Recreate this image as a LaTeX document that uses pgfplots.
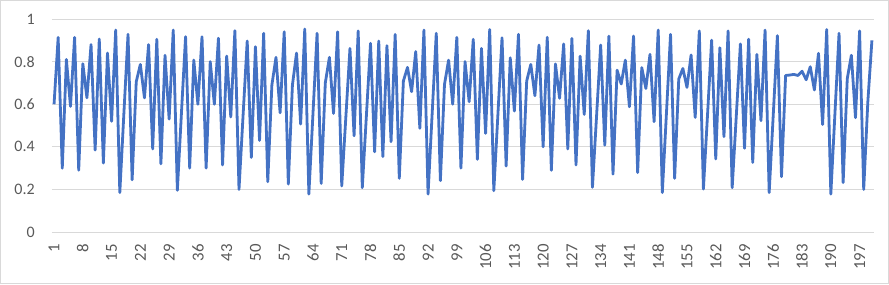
\documentclass[border=0pt]{standalone}
\usepackage{pgfplots}
\pgfplotsset{compat=1.18}
\usepackage{fontspec}
\setmainfont{Carlito}
\definecolor{exblue}{HTML}{4472C4}
\definecolor{exgrid}{HTML}{D9D9D9}
\definecolor{extext}{HTML}{595959}
\definecolor{exborder}{HTML}{D9D9D9}
\begin{document}
\begin{tikzpicture}
\begin{axis}[
  scale only axis,
  width=616.5pt, height=159.75pt,
  xmin=0.5, xmax=200.5,
  ymin=0, ymax=1,
  xtick={1,8,...,197},
  ytick={0,0.2,0.4,0.6,0.8,1},
  ymajorgrids, grid style={exgrid, line width=0.75pt},
  axis x line*=bottom, axis y line*=left,
  x axis line style={exgrid, line width=0.75pt, -},
  y axis line style={draw=none},
  major tick length=0pt,
  tick style={draw=none},
  /pgf/number format/assume math mode=true,
  ticklabel style={text=extext, inner sep=0pt},
  yticklabel style={font=\fontsize{12}{14}\selectfont, anchor=east, xshift=-12.75pt},
  xticklabel style={font=\fontsize{12.6}{14}\selectfont, yshift=-9pt, rotate=90, anchor=east},
  clip=false,
]
\addplot[exblue, line width=2.1pt, line join=round, mark=none] coordinates {
(1,0.60)(2,0.914)(3,0.30)(4,0.81)(5,0.59)(6,0.914)(7,0.29)(8,0.79)(9,0.63)(10,0.88)
(11,0.385)(12,0.906)(13,0.324)(14,0.84)(15,0.52)(16,0.948)(17,0.185)(18,0.56)(19,0.928)(20,0.245)
(21,0.706)(22,0.787)(23,0.63)(24,0.88)(25,0.39)(26,0.905)(27,0.32)(28,0.83)(29,0.53)(30,0.948)
(31,0.196)(32,0.56)(33,0.917)(34,0.30)(35,0.807)(36,0.60)(37,0.917)(38,0.30)(39,0.80)(40,0.60)
(41,0.91)(42,0.315)(43,0.826)(44,0.54)(45,0.945)(46,0.20)(47,0.55)(48,0.897)(49,0.35)(50,0.87)
(51,0.43)(52,0.933)(53,0.236)(54,0.69)(55,0.82)(56,0.56)(57,0.94)(58,0.225)(59,0.69)(60,0.84)
(61,0.507)(62,0.953)(63,0.178)(64,0.556)(65,0.933)(66,0.228)(67,0.70)(68,0.82)(69,0.557)(70,0.94)
(71,0.216)(72,0.54)(73,0.862)(74,0.452)(75,0.944)(76,0.208)(77,0.547)(78,0.886)(79,0.377)(80,0.897)
(81,0.354)(82,0.875)(83,0.424)(84,0.928)(85,0.252)(86,0.709)(87,0.773)(88,0.659)(89,0.847)(90,0.487)
(91,0.948)(92,0.178)(93,0.556)(94,0.933)(95,0.241)(96,0.693)(97,0.807)(98,0.60)(99,0.914)(100,0.30)
(101,0.80)(102,0.612)(103,0.905)(104,0.341)(105,0.862)(106,0.463)(107,0.951)(108,0.194)(109,0.553)(110,0.912)
(111,0.31)(112,0.818)(113,0.568)(114,0.928)(115,0.247)(116,0.709)(117,0.787)(118,0.64)(119,0.878)(120,0.40)
(121,0.914)(122,0.29)(123,0.789)(124,0.628)(125,0.883)(126,0.39)(127,0.909)(128,0.315)(129,0.826)(130,0.552)
(131,0.945)(132,0.21)(133,0.544)(134,0.878)(135,0.408)(136,0.92)(137,0.272)(138,0.76)(139,0.695)(140,0.807)
(141,0.588)(142,0.92)(143,0.279)(144,0.772)(145,0.674)(146,0.834)(147,0.518)(148,0.948)(149,0.185)(150,0.556)
(151,0.928)(152,0.252)(153,0.718)(154,0.768)(155,0.679)(156,0.831)(157,0.538)(158,0.944)(159,0.202)(160,0.55)
(161,0.901)(162,0.343)(163,0.865)(164,0.448)(165,0.944)(166,0.208)(167,0.545)(168,0.883)(169,0.393)(170,0.905)
(171,0.327)(172,0.834)(173,0.523)(174,0.948)(175,0.185)(176,0.553)(177,0.922)(178,0.26)(179,0.735)(180,0.737)
(181,0.74)(182,0.735)(183,0.755)(184,0.715)(185,0.776)(186,0.667)(187,0.839)(188,0.505)(189,0.951)(190,0.178)
(191,0.556)(192,0.933)(193,0.232)(194,0.72)(195,0.83)(196,0.537)(197,0.944)(198,0.20)(199,0.61)(200,0.90)
};
\end{axis}
\draw[exborder, line width=0.75pt]
  ([xshift=-38.6pt,yshift=-38.6pt]current axis.south west) rectangle
  ([xshift=10.9pt,yshift=13.9pt]current axis.north east);
\useasboundingbox
  ([xshift=-39pt,yshift=-39pt]current axis.south west) rectangle
  ([xshift=11.25pt,yshift=14.25pt]current axis.north east);
\end{tikzpicture}
\end{document}
